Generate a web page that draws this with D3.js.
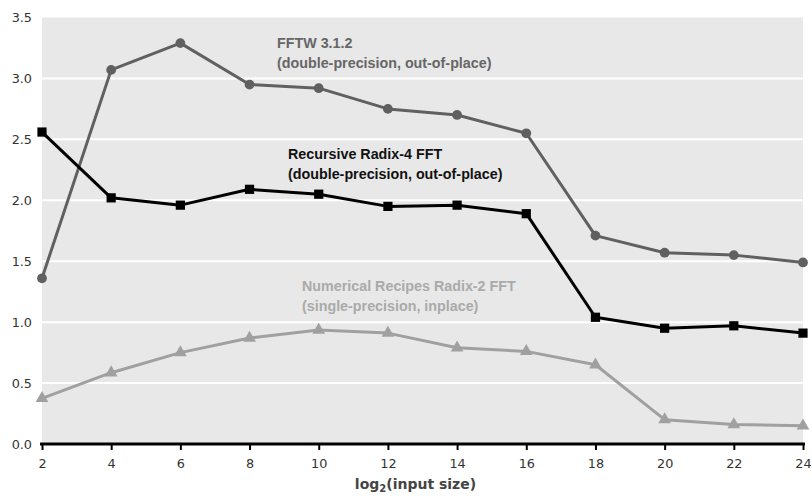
<!DOCTYPE html>
<html>
<head>
<meta charset="utf-8">
<script src="https://cdn.jsdelivr.net/npm/d3@7"></script>
<style>
  body { margin: 0; background: #fff; }
</style>
</head>
<body>
<div id="chart"></div>
<script>
// ===========Data
var sizes = [2, 4, 6, 8, 10, 12, 14, 16, 18, 20, 22, 24];
var fftw = [1.36, 3.07, 3.29, 2.95, 2.92, 2.75, 2.70, 2.55, 1.71, 1.57, 1.55, 1.49];
var radix4 = [2.56, 2.02, 1.96, 2.09, 2.05, 1.95, 1.96, 1.89, 1.04, 0.95, 0.97, 0.91];
var radix2 = [0.375, 0.585, 0.75, 0.87, 0.935, 0.91, 0.79, 0.76, 0.65, 0.20, 0.16, 0.15];
var yTicks = [0, 0.5, 1.0, 1.5, 2.0, 2.5, 3.0, 3.5];

// ===========Size
var svgWidth = 812, svgHeight = 496;
var margin = { top: 17.5, right: 9, bottom: 52, left: 42 };
var width = svgWidth - margin.left - margin.right;
var height = svgHeight - margin.top - margin.bottom;

var svg = d3.select("#chart").append("svg")
    .attr("width", svgWidth)
    .attr("height", svgHeight);

var chartGroup = svg.append("g")
    .attr("transform", `translate(${margin.left}, ${margin.top})`);

// ===========Scales
var xScale = d3.scaleLinear().domain([2, 24]).range([0, width]);
var yScale = d3.scaleLinear().domain([0, 3.5]).range([height, 0]);

// plot background
chartGroup.append("rect")
    .attr("width", width)
    .attr("height", height)
    .attr("fill", "#e8e8e8");

// gridlines
chartGroup.selectAll(".grid")
    .data(yTicks.filter(d => d > 0 && d < 3.5))
    .enter().append("line")
    .attr("x1", 0).attr("x2", width)
    .attr("y1", d => yScale(d)).attr("y2", d => yScale(d))
    .attr("stroke", "#fff")
    .attr("stroke-width", 2);

// y axis (labels only)
var leftAxis = d3.axisLeft(yScale).tickValues(yTicks).tickFormat(d3.format(".1f")).tickSize(0).tickPadding(10);
var yAxis = chartGroup.append("g").call(leftAxis);
yAxis.select(".domain").remove();
yAxis.selectAll("text")
    .style("font-family", "'DejaVu Sans', Verdana, sans-serif")
    .style("font-size", "12.8px")
    .attr("fill", "#333");

// x axis
var bottomAxis = d3.axisBottom(xScale).tickValues(sizes).tickSize(6).tickPadding(9);
var xAxis = chartGroup.append("g")
    .attr("transform", `translate(0, ${height})`)
    .call(bottomAxis);
xAxis.select(".domain").attr("stroke", "#000").attr("stroke-width", 3).attr("d", `M-2,0H${width + 2}`);
xAxis.selectAll(".tick line").attr("stroke", "#000").attr("stroke-width", 2);
xAxis.selectAll("text")
    .style("font-family", "'DejaVu Sans', Verdana, sans-serif")
    .style("font-size", "12.8px")
    .attr("fill", "#333");

// x axis title
var xTitle = chartGroup.append("text")
    .attr("x", width / 2 - 7)
    .attr("y", height + 45)
    .attr("text-anchor", "middle")
    .style("font-family", "'DejaVu Sans', Verdana, sans-serif")
    .style("font-size", "14px")
    .attr("font-weight", "bold")
    .attr("fill", "#444");
xTitle.append("tspan").text("log");
xTitle.append("tspan").attr("dy", 3).style("font-size", "10px").text("2");
xTitle.append("tspan").attr("dy", -3).text("(input size)");

// ===========Series
var line = d3.line()
    .x((d, i) => xScale(sizes[i]))
    .y(d => yScale(d));

function drawSeries(values, color, marker) {
    var g = chartGroup.append("g");
    g.append("path")
        .datum(values)
        .attr("d", line)
        .attr("fill", "none")
        .attr("stroke", color)
        .attr("stroke-width", 3)
        .attr("stroke-linejoin", "round");
    var pts = g.selectAll("path.pt")
        .data(values)
        .enter().append("path")
        .attr("class", "pt")
        .attr("transform", (d, i) => `translate(${xScale(sizes[i])}, ${yScale(d)})`)
        .attr("fill", color);
    if (marker === "circle") pts.attr("d", d3.symbol(d3.symbolCircle, 75));
    if (marker === "square") pts.attr("d", d3.symbol(d3.symbolSquare, 85));
    if (marker === "triangle") pts.attr("d", d3.symbol(d3.symbolTriangle, 70));
}

drawSeries(radix2, "#a0a0a0", "triangle");
drawSeries(fftw, "#606060", "circle");
drawSeries(radix4, "#000000", "square");

// ===========Annotations
function label(x, y, lines, color) {
    var t = svg.append("text")
        .attr("x", x).attr("y", y)
        .style("font-family", "'Liberation Sans', Arial, sans-serif")
        .style("font-size", "14.3px")
        .attr("font-weight", "bold")
        .attr("fill", color);
    lines.forEach((s, i) => {
        t.append("tspan").attr("x", x).attr("dy", i === 0 ? 0 : 19.5).text(s);
    });
}

label(277, 48, ["FFTW 3.1.2", "(double-precision, out-of-place)"], "#666");
label(288, 159, ["Recursive Radix-4 FFT", "(double-precision, out-of-place)"], "#111");
label(302, 291, ["Numerical Recipes Radix-2 FFT", "(single-precision, inplace)"], "#aaa");
</script>
</body>
</html>
